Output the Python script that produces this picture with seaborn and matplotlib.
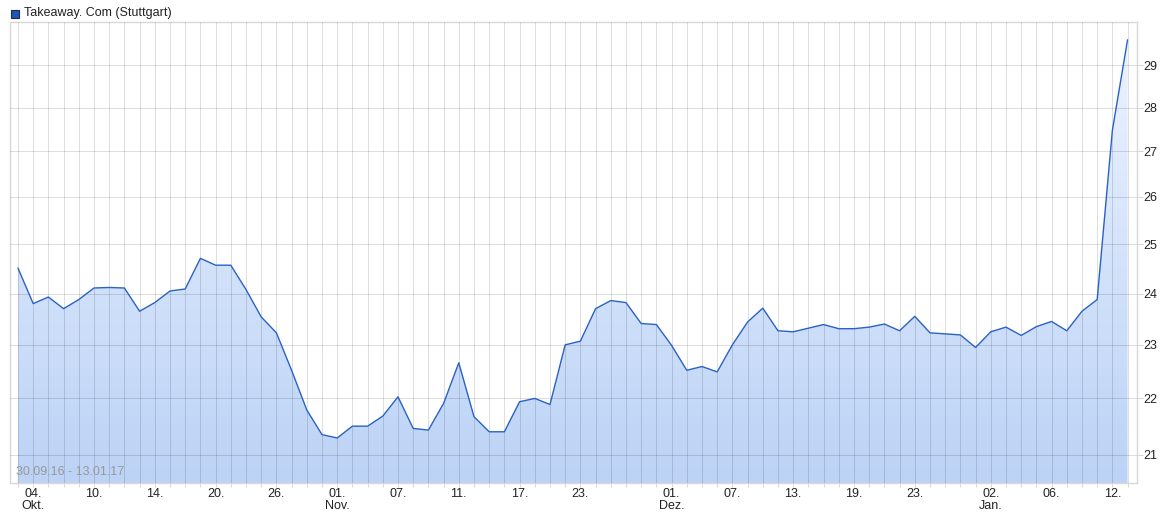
import numpy as np
import pandas as pd
import matplotlib
matplotlib.use("Agg")
import matplotlib.pyplot as plt
import seaborn as sns
from matplotlib.ticker import FixedLocator, FixedFormatter, NullLocator
from matplotlib.colors import LinearSegmentedColormap
from matplotlib.patches import Rectangle

# ---- data ----
series_name = "Takeaway. Com (Stuttgart)"
date_range = "30.09.16 - 13.01.17"
prices = [24.51, 23.80, 23.93, 23.70, 23.88, 24.11, 24.12, 24.11, 23.65, 23.82,
          24.05, 24.09, 24.71, 24.57, 24.57, 24.08, 23.54, 23.23, 22.52, 21.79,
          21.35, 21.29, 21.50, 21.50, 21.68, 22.03, 21.46, 21.43, 21.91, 22.66,
          21.67, 21.40, 21.40, 21.94, 22.00, 21.89, 23.00, 23.07, 23.70, 23.86,
          23.82, 23.41, 23.39, 22.99, 22.52, 22.59, 22.49, 23.00, 23.44, 23.71,
          23.27, 23.25, 23.32, 23.39, 23.31, 23.31, 23.34, 23.40, 23.27, 23.55,
          23.23, 23.21, 23.19, 22.95, 23.25, 23.34, 23.18, 23.35, 23.45, 23.27,
          23.65, 23.88, 27.48, 29.62]
tick_positions = [1, 5, 9, 13, 17, 21, 25, 29, 33, 37, 43, 47, 51, 55, 59, 64, 68, 72]
tick_labels = ["04.\nOkt.", "10.", "14.", "20.", "26.", "01.\nNov.", "07.", "11.",
               "17.", "23.", "01.\nDez.", "07.", "13.", "19.", "23.", "02.\nJan.",
               "06.", "12."]
y_ticks = [21, 22, 23, 24, 25, 26, 27, 28, 29]

sns.set_style("white")
plt.rcParams['font.family'] = ['Liberation Sans', 'DejaVu Sans']

W, H = 1172, 521
fig = plt.figure(figsize=(W / 100, H / 100), dpi=100)
ax = fig.add_axes([10 / W, 38 / H, 1127 / W, 461 / H])

df = pd.DataFrame({"idx": np.arange(len(prices)), "price": prices})

ax.set_yscale("log")
ax.set_xlim(-0.526, 73.62)
ax.set_ylim(20.51, 30.06)

# grid
for v in y_ticks:
    ax.axhline(v, color="#000000", alpha=0.13, lw=0.72, zorder=3)
for i in df["idx"]:
    ax.axvline(i, color="#000000", alpha=0.13, lw=0.72, zorder=3)

# gradient fill under line
fb = ax.fill_between(df["idx"], df["price"], 1.0, facecolor="none", edgecolor="none")
cmap = LinearSegmentedColormap.from_list("g", ["#eef4fe", "#d4e3fb", "#bcd3f6"])
grad = np.linspace(0, 1, 256).reshape(-1, 1)
im = ax.imshow(grad, extent=[0, 1, 0, 1], transform=ax.transAxes, aspect="auto",
               cmap=cmap, origin="upper", zorder=1, interpolation="bilinear")
im.set_clip_path(fb.get_paths()[0], transform=ax.transData)

sns.lineplot(data=df, x="idx", y="price", ax=ax, color="#2a62c4", lw=1.0, zorder=5)

ax.set_xlim(-0.526, 73.62)
ax.set_ylim(20.51, 30.06)

# axes / ticks
ax.yaxis.tick_right()
ax.yaxis.set_major_locator(FixedLocator(y_ticks))
ax.yaxis.set_major_formatter(FixedFormatter([str(v) for v in y_ticks]))
ax.yaxis.set_minor_locator(NullLocator())
all_labels = [""] * len(prices)
for p, l in zip(tick_positions, tick_labels):
    all_labels[p] = l
ax.set_xticks(list(df["idx"]))
ax.set_xticklabels(all_labels)
ax.tick_params(axis="x", length=3, width=0.72, color="#d8d8d8", pad=0.5,
               labelsize=9, labelcolor="#222222", bottom=True)
ax.tick_params(axis="y", length=4, width=0.72, color="#d8d8d8", pad=0.5,
               labelsize=9, labelcolor="#222222", right=True, left=False)
for t in ax.get_xticklabels():
    t.set_linespacing(1.05)
ax.set_xlabel("")
ax.set_ylabel("")
for s in ax.spines.values():
    s.set_color("#d8d8d8")
    s.set_linewidth(1.0)

ax.text(6 / 1127, 11 / 461, date_range, transform=ax.transAxes, ha="left",
        va="center", fontsize=9, color="#999999", zorder=6)

# legend
fig.patches.append(Rectangle((11 / W, 1 - 18 / H), 8 / W, 8 / H, transform=fig.transFigure,
                             facecolor="#1f55b8", edgecolor="#1a2a55", lw=0.8))
fig.text(24 / W, 1 - 13 / H, series_name, ha="left", va="center", fontsize=9,
         color="#222222")

fig.savefig("out.png", dpi=100)
